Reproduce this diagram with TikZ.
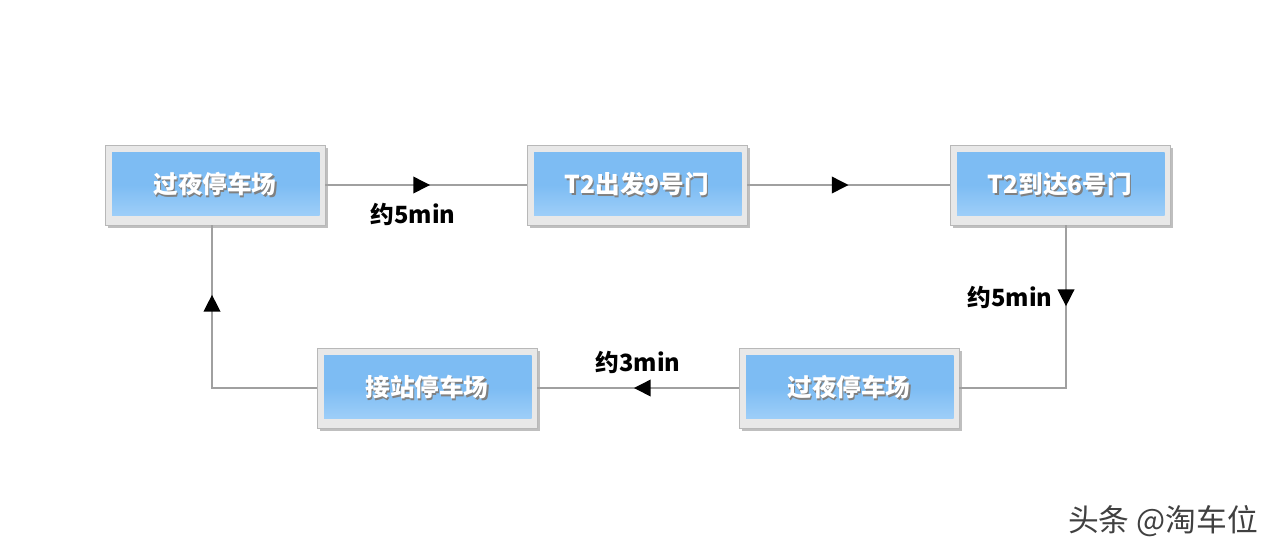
\documentclass[tikz,border=0pt]{standalone}
\usepackage{fontspec}
\setmainfont{Noto Sans CJK SC}
\usepackage{xcolor}
\usetikzlibrary{positioning,calc,shadows,arrows.meta,decorations.markings}

\definecolor{framegray}{HTML}{E8E8E8}
\definecolor{edgegray}{HTML}{B8B8B8}
\definecolor{linegray}{HTML}{A0A0A0}
\definecolor{boxblue}{HTML}{7DBCF3}
\definecolor{boxlight}{HTML}{A8D4FA}
\newcommand{\boxtext}[1]{\makebox[0pt][l]{\raisebox{-0.7pt}{\hspace{0.7pt}\color{black!50}#1}}#1}

\begin{document}
\begin{tikzpicture}[x=0.02cm,y=-0.02cm,
    stationbox/.style={minimum width=4.4cm, minimum height=1.6cm, fill=framegray, draw=edgegray,
        drop shadow={shadow xshift=1.5pt,shadow yshift=-1.5pt,opacity=0.5},
        text=white, font=\bfseries\fontsize{14}{16}\selectfont,
        path picture={\shade[top color=boxblue, bottom color=boxlight, middle color=boxblue]
            ([shift={(4pt,-4.5pt)}]path picture bounding box.north west) rectangle
            ([shift={(-3pt,5.5pt)}]path picture bounding box.south east);}},
    conn/.style={draw=linegray, line width=0.8pt},
    tipat/.style={postaction={decorate}, decoration={markings,
        mark=at position #1 with {\arrow[black]{Triangle[length=9.5pt,width=9.5pt]}}}},
    timelabel/.style={font=\bfseries\fontsize{13.5}{15}\selectfont}]
    \useasboundingbox (0,0) rectangle (1280,556);

    \node[stationbox] (park1) at (215,185) {\boxtext{过夜停车场}};
    \node[stationbox] (dep)   at (637,185) {\boxtext{T2出发9号门}};
    \node[stationbox] (arr)   at (1060,185) {\boxtext{T2到达6号门}};
    \node[stationbox] (pick)  at (427,388) {\boxtext{接站停车场}};
    \node[stationbox] (park2) at (849,388) {\boxtext{过夜停车场}};

    \coordinate (rcorner) at (1066,388);
    \coordinate (lcorner) at (212,388);

    \draw[conn, tipat=0.52] (park1.east) -- (dep.west);
    \draw[conn, tipat=0.5] (dep.east) -- (arr.west);
    \draw[conn, tipat=0.3] (arr.south -| rcorner) -- (rcorner) -- (park2.east);
    \draw[conn, tipat=0.52] (park2.west) -- (pick.east);
    \draw[conn, tipat=0.74] (pick.west) -- (lcorner) -- (park1.south -| lcorner);

    \node[timelabel] (t1) at (413,214) {约5min};
    \node[timelabel] (t2) at (1010,297) {约5min};
    \node[timelabel] (t3) at (638,362) {约3min};

    \node[text=black!75, font=\fontsize{17.5}{19}\selectfont] (mark) at (1163,521) {头条 @淘车位};
\end{tikzpicture}
\end{document}
